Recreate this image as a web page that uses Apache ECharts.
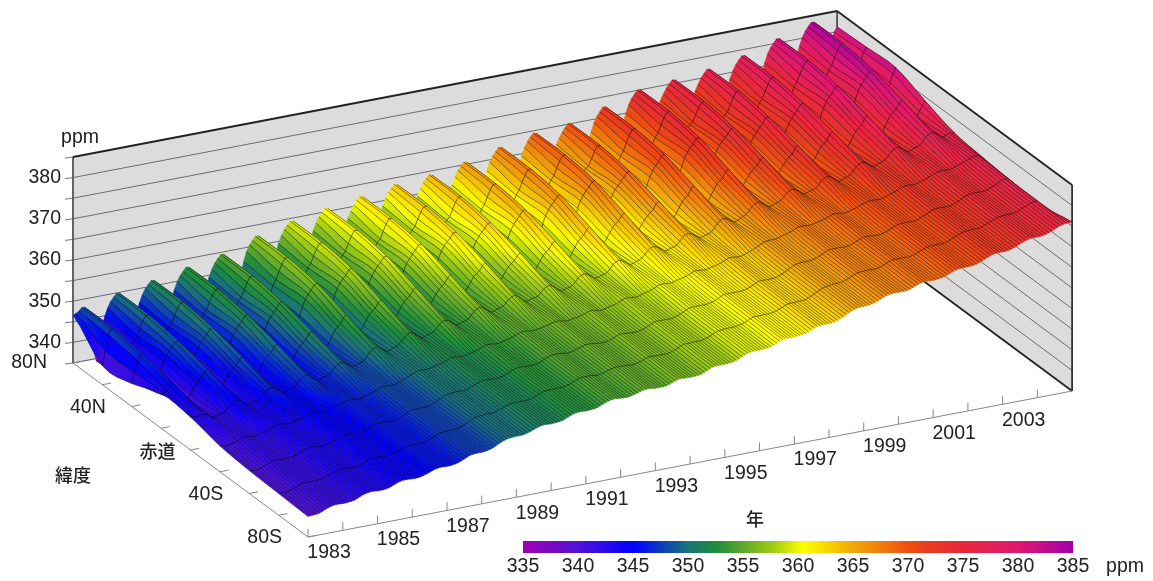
<!DOCTYPE html>
<html><head><meta charset="utf-8">
<style>html,body{margin:0;padding:0;background:#fff}#c{width:1153px;height:581px}</style>
<script src="https://cdn.jsdelivr.net/npm/echarts@6/dist/echarts.min.js"></script>
</head><body><div id="c"></div>
<script>
// ----- data: ppm at six samples per year (1983.0 ... 2005.0), one array per latitude
const latitudes=[80,60,40,20,0,-20,-40,-60,-80];
const samplesPerYear=6;
const ppm80N=[346.6,347.3,348.0,342.8,334.5,342.3,
346.8,349.1,349.8,344.6,336.3,344.1,
348.4,350.6,351.3,346.1,337.8,345.5,
349.9,352.1,352.9,347.6,339.3,347.1,
351.3,353.6,354.4,349.2,341.0,348.8,
354.0,356.4,357.3,352.2,344.0,351.9,
356.3,358.5,359.3,354.0,345.7,353.5,
357.7,360.0,360.7,355.5,347.2,355.0,
359.0,361.3,362.0,356.8,348.5,356.3,
360.5,362.6,363.3,357.9,349.5,357.2,
361.2,363.4,364.0,358.7,350.4,358.0,
362.5,364.8,365.5,360.3,352.1,359.8,
364.4,366.7,367.5,362.3,354.1,361.9,
366.3,368.6,369.3,364.1,355.9,363.6,
367.0,369.3,370.0,364.8,356.6,364.3,
369.1,371.5,372.5,367.4,359.3,367.3,
371.9,374.2,375.0,369.8,361.6,369.4,
372.9,375.1,375.8,370.6,362.3,370.0,
373.7,376.0,376.8,371.6,363.3,371.1,
375.3,377.6,378.5,373.3,365.1,373.0,
377.8,380.1,381.0,375.8,367.6,375.5,
380.2,382.5,383.4,378.2,370.0,377.9,
381.2];
const ppm60N=[339.6,346.8,348.0,341.8,335.5,342.8,
345.3,348.6,349.8,343.6,337.3,344.6,
346.9,350.1,351.3,345.1,338.8,346.0,
348.4,351.6,352.9,346.6,340.3,347.6,
349.8,353.1,354.4,348.2,342.0,349.3,
352.5,355.9,357.3,351.2,345.0,352.4,
354.8,358.0,359.3,353.0,346.7,354.0,
356.2,359.5,360.7,354.5,348.2,355.5,
357.5,360.8,362.0,355.8,349.5,356.8,
359.0,362.1,363.3,356.9,350.5,357.7,
359.7,362.9,364.0,357.7,351.4,358.5,
361.0,364.3,365.5,359.3,353.1,360.3,
362.9,366.2,367.5,361.3,355.1,362.4,
364.8,368.1,369.3,363.1,356.9,364.1,
365.5,368.8,370.0,363.8,357.6,364.8,
367.6,371.0,372.5,366.4,360.3,367.8,
370.4,373.7,375.0,368.8,362.6,369.9,
371.4,374.6,375.8,369.6,363.3,370.5,
372.2,375.5,376.8,370.6,364.3,371.6,
373.8,377.1,378.5,372.3,366.1,373.5,
376.3,379.6,381.0,374.8,368.6,376.0,
378.7,382.0,383.4,377.2,371.0,378.4,
381.5];
const ppm40N=[340.6,345.8,347.0,341.8,337.5,342.8,
345.8,347.6,348.8,343.6,339.3,344.6,
347.4,349.1,350.3,345.1,340.8,346.0,
348.9,350.6,351.9,346.6,342.3,347.6,
350.3,352.1,353.4,348.2,344.0,349.3,
353.0,354.9,356.3,351.2,347.0,352.4,
355.3,357.0,358.3,353.0,348.7,354.0,
356.7,358.5,359.7,354.5,350.2,355.5,
358.0,359.8,361.0,355.8,351.5,356.8,
359.5,361.1,362.3,356.9,352.5,357.7,
360.2,361.9,363.0,357.7,353.4,358.5,
361.5,363.3,364.5,359.3,355.1,360.3,
363.4,365.2,366.5,361.3,357.1,362.4,
365.3,367.1,368.3,363.1,358.9,364.1,
366.0,367.8,369.0,363.8,359.6,364.8,
368.1,370.0,371.5,366.4,362.3,367.8,
370.9,372.7,374.0,368.8,364.6,369.9,
371.9,373.6,374.8,369.6,365.3,370.5,
372.7,374.5,375.8,370.6,366.3,371.6,
374.3,376.1,377.5,372.3,368.1,373.5,
376.8,378.6,380.0,374.8,370.6,376.0,
379.2,381.0,382.4,377.2,373.0,378.4,
381.8];
const ppm20N=[343.5,343.8,345.5,342.8,340.0,341.8,
344.2,345.5,347.2,344.5,341.7,343.5,
345.7,346.9,348.6,345.9,343.1,344.8,
347.1,348.3,350.1,347.3,344.5,346.3,
348.5,349.8,351.6,348.9,346.2,348.0,
350.7,352.1,354.0,351.4,348.7,350.6,
353.0,354.2,356.0,353.2,350.4,352.2,
354.4,355.7,357.4,354.7,351.9,353.7,
355.8,357.1,358.8,356.1,353.3,355.1,
357.3,358.4,360.1,357.2,354.3,356.0,
358.1,359.3,360.9,358.1,355.3,356.9,
359.2,360.5,362.2,359.5,356.8,358.5,
361.0,362.3,364.1,361.4,358.7,360.5,
362.8,364.1,365.8,363.1,360.4,362.1,
364.0,365.3,367.0,364.3,361.6,363.3,
365.8,367.2,369.2,366.6,364.0,366.0,
368.5,369.8,371.6,368.9,366.2,368.0,
370.0,371.2,372.9,370.2,367.4,369.1,
371.0,372.3,374.1,371.4,368.6,370.4,
372.7,374.0,375.9,373.2,370.5,372.4,
374.9,376.2,378.1,375.4,372.7,374.6,
377.1,378.4,380.3,377.6,374.9,376.8,
379.0];
const ppmEq=[343.0,342.8,343.0,342.8,341.8,342.3,
342.7,344.3,345.0,344.3,343.3,343.8,
344.2,345.7,346.4,345.7,344.7,345.1,
345.5,347.0,347.8,347.0,346.0,346.5,
346.9,348.5,349.3,348.6,347.7,348.2,
348.7,350.4,351.3,350.7,349.8,350.4,
351.0,352.5,353.3,352.5,351.5,352.0,
352.4,354.0,354.7,354.0,353.0,353.5,
353.9,355.5,356.2,355.5,354.5,355.0,
355.4,356.8,357.5,356.6,355.5,355.9,
356.2,357.7,358.3,357.5,356.5,356.8,
357.2,358.8,359.5,358.8,357.9,358.3,
358.8,360.4,361.2,360.5,359.6,360.1,
360.6,362.2,362.9,362.2,361.3,361.7,
362.2,363.8,364.5,363.8,362.9,363.3,
363.8,365.5,366.5,365.9,365.1,365.8,
366.4,368.0,368.8,368.1,367.2,367.7,
368.2,369.7,370.4,369.7,368.7,369.1,
369.5,371.1,371.9,371.2,370.2,370.7,
371.2,372.8,373.7,373.0,372.1,372.7,
373.2,374.8,375.7,375.0,374.1,374.7,
375.2,376.8,377.7,377.0,376.1,376.7,
376.5];
const ppm20S=[341.3,340.9,341.2,341.7,342.2,342.2,
342.0,342.4,342.7,343.2,343.7,343.7,
343.5,343.8,344.1,344.6,345.1,345.0,
344.8,345.1,345.5,345.9,346.4,346.4,
346.2,346.6,347.0,347.5,348.1,348.1,
348.0,348.5,349.0,349.6,350.2,350.3,
350.3,350.6,351.0,351.4,351.9,351.9,
351.7,352.1,352.4,352.9,353.4,353.4,
353.2,353.6,353.9,354.4,354.9,354.9,
354.7,354.9,355.2,355.5,355.9,355.8,
355.5,355.8,356.0,356.4,356.9,356.7,
356.5,356.9,357.2,357.7,358.3,358.2,
358.1,358.5,358.9,359.4,360.0,360.0,
359.9,360.3,360.6,361.1,361.7,361.6,
361.5,361.9,362.2,362.7,363.3,363.2,
363.1,363.6,364.2,364.8,365.5,365.7,
365.7,366.1,366.5,367.0,367.6,367.6,
367.5,367.8,368.1,368.6,369.1,369.0,
368.8,369.2,369.6,370.1,370.6,370.6,
370.5,370.9,371.4,371.9,372.5,372.6,
372.5,372.9,373.4,373.9,374.5,374.6,
374.5,374.9,375.4,375.9,376.5,376.6,
375.6];
const ppm40S=[340.6,340.3,340.6,341.2,341.8,341.9,
341.8,341.8,342.1,342.7,343.3,343.4,
343.3,343.2,343.5,344.1,344.7,344.7,
344.6,344.5,344.9,345.4,346.0,346.1,
346.0,346.0,346.4,347.0,347.7,347.8,
347.8,347.9,348.4,349.1,349.8,350.0,
350.1,350.0,350.4,350.9,351.5,351.6,
351.5,351.5,351.8,352.4,353.0,353.1,
353.0,353.0,353.3,353.9,354.5,354.6,
354.5,354.3,354.6,355.0,355.5,355.5,
355.3,355.2,355.4,355.9,356.5,356.4,
356.3,356.3,356.6,357.2,357.9,357.9,
357.9,357.9,358.3,358.9,359.6,359.7,
359.7,359.7,360.0,360.6,361.3,361.3,
361.3,361.3,361.6,362.2,362.9,362.9,
362.9,363.0,363.6,364.3,365.1,365.4,
365.5,365.5,365.9,366.5,367.2,367.3,
367.3,367.2,367.5,368.1,368.7,368.7,
368.6,368.6,369.0,369.6,370.2,370.3,
370.3,370.3,370.8,371.4,372.1,372.3,
372.3,372.3,372.8,373.4,374.1,374.3,
374.3,374.3,374.8,375.4,376.1,376.3,
375.0];
const ppm60S=[340.3,340.2,340.5,341.1,341.6,341.7,
341.7,341.7,342.0,342.6,343.1,343.2,
343.2,343.1,343.4,344.0,344.5,344.5,
344.5,344.4,344.8,345.3,345.8,345.9,
345.9,345.9,346.3,346.9,347.5,347.6,
347.7,347.8,348.3,349.0,349.6,349.8,
350.0,349.9,350.3,350.8,351.3,351.4,
351.4,351.4,351.7,352.3,352.8,352.9,
352.9,352.9,353.2,353.8,354.3,354.4,
354.4,354.2,354.5,354.9,355.3,355.3,
355.2,355.1,355.3,355.8,356.3,356.2,
356.2,356.2,356.5,357.1,357.7,357.7,
357.8,357.8,358.2,358.8,359.4,359.5,
359.6,359.6,359.9,360.5,361.1,361.1,
361.2,361.2,361.5,362.1,362.7,362.7,
362.8,362.9,363.5,364.2,364.9,365.2,
365.4,365.4,365.8,366.4,367.0,367.1,
367.2,367.1,367.4,368.0,368.5,368.5,
368.5,368.5,368.9,369.5,370.0,370.1,
370.2,370.2,370.7,371.3,371.9,372.1,
372.2,372.2,372.7,373.3,373.9,374.1,
374.2,374.2,374.7,375.3,375.9,376.1,
374.6];
const ppm80S=[340.0,340.1,340.3,340.9,341.4,341.6,
341.5,341.6,341.8,342.4,342.9,343.1,
343.0,343.0,343.2,343.8,344.3,344.4,
344.3,344.3,344.6,345.1,345.6,345.8,
345.7,345.8,346.1,346.7,347.3,347.5,
347.5,347.7,348.1,348.8,349.4,349.7,
349.8,349.8,350.1,350.6,351.1,351.3,
351.2,351.3,351.5,352.1,352.6,352.8,
352.7,352.8,353.0,353.6,354.1,354.3,
354.2,354.1,354.3,354.7,355.1,355.2,
355.0,355.0,355.1,355.6,356.1,356.1,
356.0,356.1,356.3,356.9,357.5,357.6,
357.6,357.7,358.0,358.6,359.2,359.4,
359.4,359.5,359.7,360.3,360.9,361.0,
361.0,361.1,361.3,361.9,362.5,362.6,
362.6,362.8,363.3,364.0,364.7,365.1,
365.2,365.3,365.6,366.2,366.8,367.0,
367.0,367.0,367.2,367.8,368.3,368.4,
368.3,368.4,368.7,369.3,369.8,370.0,
370.0,370.1,370.5,371.1,371.7,372.0,
372.0,372.1,372.5,373.1,373.7,374.0,
374.0,374.1,374.5,375.1,375.7,376.0,
376.0];
const ppmRows=[ppm80N,ppm60N,ppm40N,ppm20N,ppmEq,ppm20S,ppm40S,ppm60S,ppm80S];

const yearStart=1983, yearEnd=2005;
const yearTicks=[1983,1984,1985,1986,1987,1988,1989,1990,1991,1992,1993,1994,1995,1996,1997,1998,1999,2000,2001,2002,2003,2004];
const yearLabels=[1983,1985,1987,1989,1991,1993,1995,1997,1999,2001,2003];
const latTicks=[80,60,40,20,0,-20,-40,-60,-80];
const latLabels=[[80,'80N'],[40,'40N'],[0,'赤道'],[-40,'40S'],[-80,'80S']];
const ppmMin=335, ppmMax=385;
const ppmGrid=[335,340,345,350,355,360,365,370,375,380,385];
const ppmLabels=[340,350,360,370,380];
const colorStops=[[335,'#a000b4'],[340,'#5012d4'],[345,'#0000ff'],[350,'#1a7478'],[352.5,'#1f8c3c'],[355,'#5ea82c'],[358,'#a8d010'],[360.5,'#ffff00'],[365,'#f0a808'],[370,'#f05010'],[372,'#e83a20'],[375,'#e8283c'],[380,'#e01870'],[385,'#a000a8']];

// ----- oblique projection of (year, latitude, ppm) to the plane of the hidden axes
function project(year,lat,ppm){
  return [73+(year-yearStart)*34.73+(80-lat)*1.469,
          363-(year-yearStart)*6.636+(80-lat)*1.0875-(ppm-ppmMin)*4.12];
}
function ppmColor(v){
  const s=colorStops;
  if(v<=s[0][0])return s[0][1];
  for(let i=1;i<s.length;i++){
    if(v<=s[i][0]){
      const u=(v-s[i-1][0])/(s[i][0]-s[i-1][0]);
      return echarts.color.lerp(u,[s[i-1][1],s[i][1]]);
    }
  }
  return s[s.length-1][1];
}
function cr(a,b,c,d,u){return 0.5*(2*b+(c-a)*u+(2*a-5*b+4*c-d)*u*u+(3*b-a-3*c+d)*u*u*u);}
// rendering mesh: rounds the table's cells the way a smoothed line does
const timeDiv=2, latDiv=4;
const nCols=ppm80N.length, nRows=latitudes.length;
const meshT=[];
for(let c=0;c<nCols-1;c++){for(let k=0;k<timeDiv;k++)meshT.push(c+k/timeDiv);}
meshT.push(nCols-1);
const meshL=[];
for(let r=0;r<nRows-1;r++){for(let k=0;k<latDiv;k++)meshL.push(r+k/latDiv);}
meshL.push(nRows-1);
function colValue(r,tf){
  const row=ppmRows[r],i=Math.min(Math.floor(tf),nCols-2),u=tf-i;
  const g=j=>row[Math.max(0,Math.min(nCols-1,j))];
  return cr(g(i-1),g(i),g(i+1),g(i+2),u);
}
const mesh=meshT.map(tf=>{
  const vals=ppmRows.map((_,r)=>colValue(r,tf));
  const year=yearStart+tf/samplesPerYear;
  return meshL.map(lf=>{
    const i=Math.min(Math.floor(lf),nRows-2),u=lf-i;
    const g=j=>vals[Math.max(0,Math.min(nRows-1,j))];
    const z=cr(g(i-1),g(i),g(i+1),g(i+2),u);
    const lat=latitudes[i]+(latitudes[i+1]-latitudes[i])*u;
    return {p:project(year,lat,z),z};
  });
});

const FONT='"Liberation Sans",Arial,sans-serif';
const CJK='"Noto Sans CJK JP","Liberation Sans",sans-serif';
const textCol='#222';

function line(api,a,b,stroke,w){
  const p=api.coord(a),q=api.coord(b);
  return {type:'line',shape:{x1:p[0],y1:p[1],x2:q[0],y2:q[1]},style:{stroke,lineWidth:w,fill:null},silent:true};
}
function renderFrame(params,api){
  const ch=[];
  const poly=(pts,fill)=>({type:'polygon',shape:{points:pts.map(p=>api.coord(p))},style:{fill},silent:true});
  ch.push(poly([project(yearStart,80,ppmMin),project(yearStart,80,ppmMax),project(yearEnd,80,ppmMax),project(yearEnd,80,ppmMin)],'#dcdcdc'));
  ch.push(poly([project(yearEnd,80,ppmMin),project(yearEnd,80,ppmMax),project(yearEnd,-80,ppmMax),project(yearEnd,-80,ppmMin)],'#dcdcdc'));
  ppmGrid.slice(1,-1).forEach(v=>{
    ch.push(line(api,project(yearStart,80,v),project(yearEnd,80,v),'#6e6e6e',1));
    ch.push(line(api,project(yearEnd,80,v),project(yearEnd,-80,v),'#6e6e6e',1));
  });
  ppmGrid.forEach(v=>{
    const p=project(yearStart,80,v);
    ch.push(line(api,[p[0]-8,p[1]+1],p,'#777',1));
  });
  ch.push(line(api,project(yearStart,80,ppmMin),project(yearEnd,80,ppmMin),'#555',1));
  ch.push(line(api,project(yearStart,80,ppmMin),project(yearStart,80,ppmMax),'#555',1.8));
  ch.push(line(api,project(yearEnd,80,ppmMin),project(yearEnd,80,ppmMax),'#333',1.5));
  ch.push(line(api,project(yearEnd,-80,ppmMin),project(yearEnd,-80,ppmMax),'#333',1.8));
  ch.push(line(api,project(yearStart,80,ppmMax),project(yearEnd,80,ppmMax),'#222',1.8));
  ch.push(line(api,project(yearEnd,80,ppmMax),project(yearEnd,-80,ppmMax),'#222',1.8));
  ch.push(line(api,project(yearEnd,80,ppmMin),project(yearEnd,-80,ppmMin),'#222',1.8));
  // floor axes and their ticks
  ch.push(line(api,project(yearStart,80,ppmMin),project(yearStart,-80,ppmMin),'#888',1));
  ch.push(line(api,project(yearStart,-80,ppmMin),project(yearEnd,-80,ppmMin),'#888',1));
  yearTicks.forEach(y=>ch.push(line(api,project(y,-80,ppmMin),project(y,-80,ppmMin+2),'#888',1)));
  latTicks.forEach(l=>ch.push(line(api,project(yearStart,l,ppmMin),project(yearStart+0.25,l,ppmMin),'#888',1)));
  return {type:'group',children:ch};
}
function renderStrip(params,api){
  const f=api.value(0);
  const a=mesh[f],b=mesh[f+1];
  const ptsA=a.map(d=>api.coord(d.p)),ptsB=b.map(d=>api.coord(d.p));
  const stops=a.map((d,g)=>({offset:g/(a.length-1),color:ppmColor((d.z+b[g].z)/2)}));
  const x0=(ptsA[0][0]+ptsB[0][0])/2,x1=(ptsA[a.length-1][0]+ptsB[a.length-1][0])/2;
  const grad=new echarts.graphic.LinearGradient(x0,0,x1,0,stops,true);
  const ch=[{type:'polygon',shape:{points:ptsA.concat(ptsB.slice().reverse())},style:{fill:grad,stroke:grad,lineWidth:0.6},silent:true}];
  ch.push({type:'polyline',shape:{points:ptsB},style:{stroke:'rgba(0,0,0,0.62)',lineWidth:0.75,fill:null},silent:true});
  if(f===0)ch.push({type:'polyline',shape:{points:ptsA},style:{stroke:'rgba(0,0,0,0.4)',lineWidth:0.5,fill:null},silent:true});
  for(let g=latDiv;g<a.length-1;g+=latDiv){
    ch.push({type:'line',shape:{x1:ptsA[g][0],y1:ptsA[g][1],x2:ptsB[g][0],y2:ptsB[g][1]},style:{stroke:'rgba(0,0,0,0.6)',lineWidth:0.9,fill:null},silent:true});
  }
  return {type:'group',children:ch};
}
function renderLabels(params,api){
  const ch=[];
  const txt=(pt,dx,dy,text,align,font)=>{
    const c=api.coord(pt);
    ch.push({type:'text',style:{text,x:c[0]+dx,y:c[1]+dy,align,verticalAlign:'middle',fill:textCol,font},silent:true});
  };
  const num='19.5px '+FONT,cjk='500 18px '+CJK;
  yearLabels.forEach(y=>txt(project(y,-80,ppmMin),21,16,String(y),'center',num));
  ppmLabels.forEach(v=>txt(project(yearStart,80,v),-12,0,String(v),'right',num));
  latLabels.forEach(([l,s])=>{
    if(s==='赤道')txt(project(yearStart,l,ppmMin),-15,1,s,'right',cjk);
    else txt(project(yearStart,l,ppmMin),-26,l===80?0:1,s,'right',num);
  });
  const abs=(x,y,s,f)=>{const c=api.coord([x,y]);ch.push({type:'text',style:{text:s,x:c[0],y:c[1],align:'center',verticalAlign:'middle',fill:textCol,font:f},silent:true});};
  abs(80,138,'ppm',num);
  abs(73,475,'緯度',cjk);
  abs(755,519,'年',cjk);
  abs(1125,567,'ppm',num);
  return {type:'group',children:ch};
}
function renderBar(params,api){
  const a=api.coord([ppmMin,0]),b=api.coord([ppmMax,1]);
  const stops=colorStops.map(s=>({offset:(s[0]-ppmMin)/(ppmMax-ppmMin),color:s[1]}));
  return {type:'rect',shape:{x:a[0],y:b[1],width:b[0]-a[0],height:a[1]-b[1]},
    style:{fill:new echarts.graphic.LinearGradient(0,0,1,0,stops)},silent:true};
}

const stripData=[];
for(let f=mesh.length-2;f>=0;f--)stripData.push([f]);

const chart=echarts.init(document.getElementById('c'),null,{renderer:'canvas'});
chart.setOption({
  animation:false,backgroundColor:'#fff',
  grid:[{left:0,right:0,top:0,bottom:0,containLabel:false},{left:523,width:550,top:541,height:12,containLabel:false}],
  xAxis:[
    {type:'value',min:0,max:1153,show:false,gridIndex:0},
    {type:'value',min:ppmMin,max:ppmMax,interval:5,gridIndex:1,position:'bottom',
     axisLine:{show:false},axisTick:{show:false},splitLine:{show:false},
     axisLabel:{margin:4,fontSize:19.5,fontFamily:'"Liberation Sans",Arial,sans-serif',color:textCol,hideOverlap:false,showMinLabel:true,showMaxLabel:true}}
  ],
  yAxis:[
    {type:'value',min:0,max:581,inverse:true,show:false,gridIndex:0},
    {type:'value',min:0,max:1,show:false,gridIndex:1}
  ],
  series:[
    {type:'custom',name:'frame',xAxisIndex:0,yAxisIndex:0,clip:false,silent:true,data:[[0,0]],renderItem:renderFrame,z:1},
    {type:'custom',name:'ppm surface',xAxisIndex:0,yAxisIndex:0,clip:false,silent:true,data:stripData,renderItem:renderStrip,z:2,progressive:0,encode:{x:0}},
    {type:'custom',name:'labels',xAxisIndex:0,yAxisIndex:0,clip:false,silent:true,data:[[0,0]],renderItem:renderLabels,z:3},
    {type:'custom',name:'colour bar',xAxisIndex:1,yAxisIndex:1,clip:false,silent:true,data:[[ppmMin,0]],renderItem:renderBar,z:3}
  ]
});
</script></body></html>
